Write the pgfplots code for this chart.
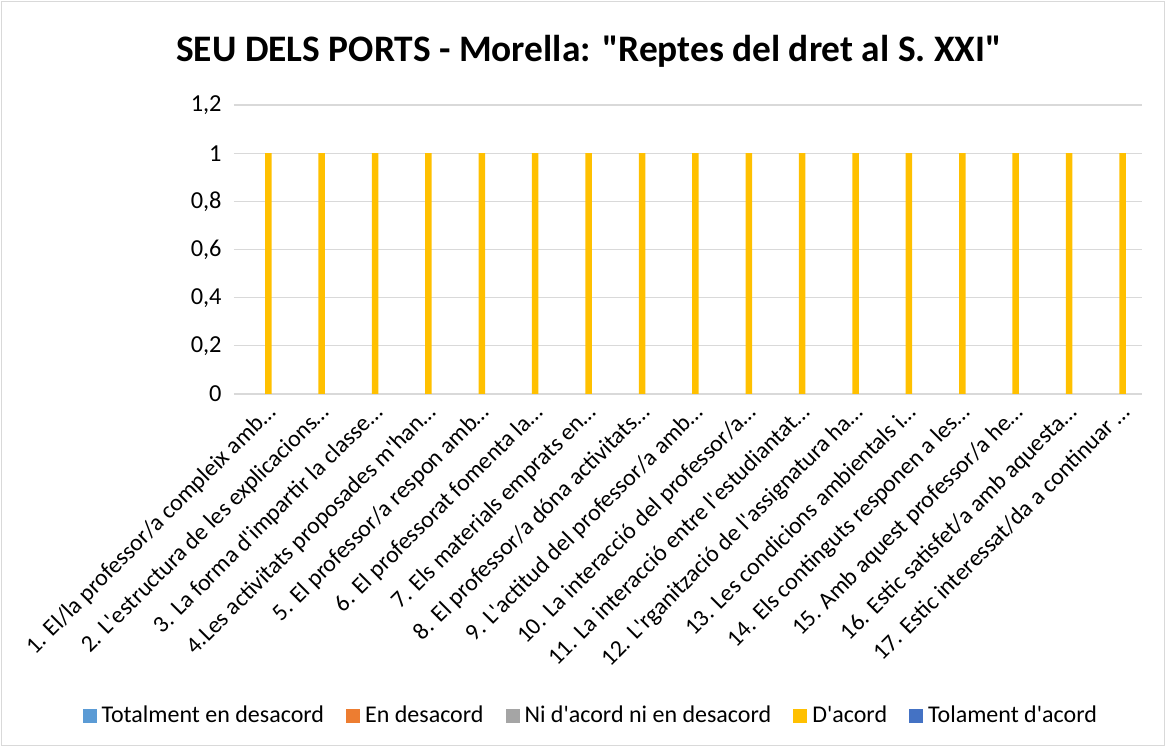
\documentclass[border=0pt]{standalone}
\usepackage{pgfplots}
\pgfplotsset{compat=1.18}
\usepackage{fontspec}
\setmainfont{Carlito}[Ligatures=TeXOff]
\definecolor{cA}{HTML}{5B9BD5}
\definecolor{cB}{HTML}{ED7D31}
\definecolor{cC}{HTML}{A5A5A5}
\definecolor{cD}{HTML}{FFC000}
\definecolor{cE}{HTML}{4472C4}
\definecolor{gridc}{HTML}{D9D9D9}
\begin{document}
\begin{tikzpicture}
\useasboundingbox (-117pt,-176.5pt) rectangle (466pt,197pt);
\draw[color=gridc, line width=0.6pt] (-116.3pt,-175.8pt) rectangle (465.3pt,196.3pt);
\node[font=\fontsize{18.7}{22}\selectfont\bfseries, anchor=base, inner sep=0pt] at (177.5pt,166pt) {SEU DELS PORTS - Morella: "Reptes del dret al S. XXI"};
\begin{axis}[
  at={(0pt,0pt)}, anchor=south west,
  scale only axis, width=453.8pt, height=144.5pt,
  xmin=0.5, xmax=17.5, ymin=0, ymax=1.2,
  ytick={0,0.2,0.4,0.6,0.8,1,1.2},
  xtick={1,...,17},
  xticklabels={
    {1. El/la professor/a compleix amb…},
    {2. L'estructura de les explicacions…},
    {3. La forma d'impartir la classe…},
    {4.Les activitats proposades m'han…},
    {5. El professor/a respon amb…},
    {6. El professorat fomenta la…},
    {7. Els materials emprats en…},
    {8. El professor/a dóna activitats…},
    {9. L'actitud del professor/a amb…},
    {10. La interacció del professor/a…},
    {11. La interacció entre l'estudiantat…},
    {12. L'rganització de l'assignatura ha…},
    {13. Les condicions ambientals i…},
    {14. Els continguts responen a les…},
    {15. Amb aquest professor/a he…},
    {16. Estic satisfet/a amb aquesta…},
    {17. Estic interessat/da a continuar …}},
  x tick label style={xshift=2.3pt, yshift=-3.6pt, rotate=45, anchor=north east, inner sep=0pt, font=\fontsize{11.9}{14}\selectfont},
  y tick label style={font=\fontsize{12.2}{14}\selectfont, inner sep=0pt, xshift=-6pt},
  /pgf/number format/use comma,
  /pgf/number format/assume math mode=true,
  major tick length=0pt,
  ymajorgrids, grid style={color=gridc, line width=0.6pt},
  axis x line*=bottom, axis y line*=left,
  y axis line style={draw=none},
  x axis line style={color=gridc, line width=0.6pt},
  clip=false,
  legend columns=5,
  legend style={draw=none, fill=none, at={(0.3925,-1.114)}, anchor=center,
    font=\fontsize{12}{14}\selectfont,
    nodes={inner sep=0.5pt},
    /tikz/every odd column/.append style={column sep=2pt},
    /tikz/every even column/.append style={column sep=10.5pt}},
  legend image code/.code={\fill[#1] (0pt,-3.5pt) rectangle (7pt,3.5pt);},
]
\addlegendimage{fill=cA, draw=none}
\addlegendentry{Totalment en desacord}
\addlegendimage{fill=cB, draw=none}
\addlegendentry{En desacord}
\addlegendimage{fill=cC, draw=none}
\addlegendentry{Ni d'acord ni en desacord}
\addlegendimage{fill=cD, draw=none}
\addlegendentry{D'acord}
\addlegendimage{fill=cE, draw=none}
\addlegendentry{Tolament d'acord}
\addplot[ybar, bar width=3.25pt, bar shift=3.8pt, fill=cD, draw=none, forget plot] coordinates {
(1,1) (2,1) (3,1) (4,1) (5,1) (6,1) (7,1) (8,1) (9,1) (10,1) (11,1) (12,1) (13,1) (14,1) (15,1) (16,1) (17,1)};
\end{axis}
\end{tikzpicture}
\end{document}
